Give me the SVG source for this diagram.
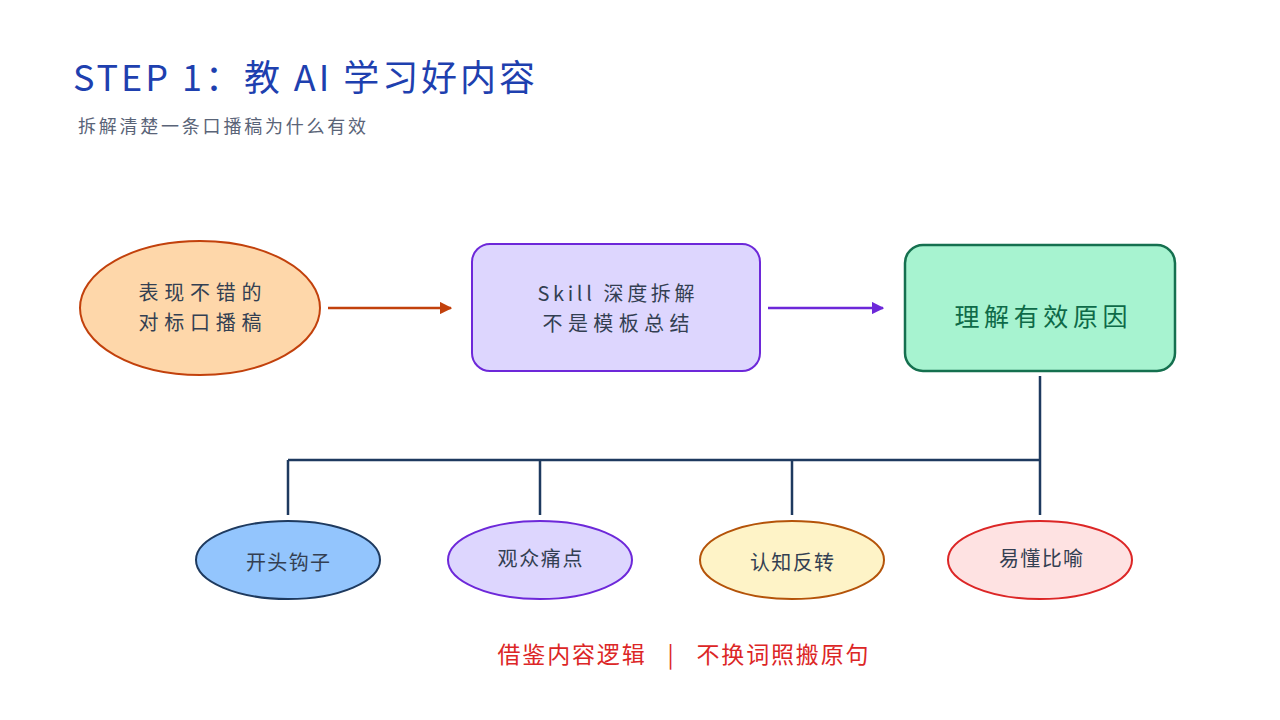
<svg xmlns="http://www.w3.org/2000/svg" width="1280" height="720" viewBox="0 0 1280 720">
<defs>
<style>
text{font-family:"Noto Sans CJK SC","Noto Sans",sans-serif;}
.node{font-size:20px;fill:#333f52;text-anchor:middle;}
.small{font-size:20px;fill:#333f52;text-anchor:middle;}
.conn{stroke:#1e3a5f;stroke-width:2.5;fill:none;}
</style>
<marker id="ah-o" viewBox="0 0 10 10" refX="9" refY="5" markerWidth="5" markerHeight="5" orient="auto"><path d="M0,0 L10,5 L0,10 z" fill="#c2410c"/></marker>
<marker id="ah-p" viewBox="0 0 10 10" refX="9" refY="5" markerWidth="5" markerHeight="5" orient="auto"><path d="M0,0 L10,5 L0,10 z" fill="#6d28d9"/></marker>
</defs>
<rect width="1280" height="720" fill="#ffffff"/>
<text x="73" y="91" font-size="36" fill="#1e40af" textLength="462" lengthAdjust="spacing">STEP 1：教 AI 学习好内容</text>
<text x="78" y="133" font-size="18" fill="#5a6478" textLength="288" lengthAdjust="spacing">拆解清楚一条口播稿为什么有效</text>

<g id="connectors">
<line x1="328" y1="308" x2="451" y2="308" stroke="#c2410c" stroke-width="2.5" marker-end="url(#ah-o)"/>
<line x1="768" y1="308" x2="883" y2="308" stroke="#6d28d9" stroke-width="2.5" marker-end="url(#ah-p)"/>
<path class="conn" d="M1040,376 V460 M288,460 H1040 M288,460 V515 M540,460 V515 M792,460 V515 M1040,460 V515"/>
</g>

<g id="n1">
<ellipse cx="200" cy="308" rx="120" ry="67" fill="#fed7aa" stroke="#c2410c" stroke-width="2"/>
<text class="node" x="200" y="300" textLength="123" lengthAdjust="spacing">表现不错的</text>
<text class="node" x="200" y="330" textLength="123" lengthAdjust="spacing">对标口播稿</text>
</g>
<g id="n2">
<rect x="472" y="244" width="288" height="127" rx="18" fill="#ddd6fe" stroke="#6d28d9" stroke-width="2"/>
<text class="node" x="616" y="301" textLength="157" lengthAdjust="spacing">Skill 深度拆解</text>
<text class="node" x="616" y="331" textLength="147" lengthAdjust="spacing">不是模板总结</text>
</g>
<g id="n3">
<rect x="905" y="245" width="270" height="126" rx="18" fill="#a7f3d0" stroke="#15704f" stroke-width="2.5"/>
<text x="1041" y="326" font-size="25" fill="#0e6a48" text-anchor="middle" textLength="173" lengthAdjust="spacing">理解有效原因</text>
</g>
<g id="b1">
<ellipse cx="288" cy="560" rx="92" ry="39" fill="#93c5fd" stroke="#1e3a5f" stroke-width="2"/>
<text class="small" x="288" y="570" textLength="84" lengthAdjust="spacing">开头钩子</text>
</g>
<g id="b2">
<ellipse cx="540" cy="560" rx="92" ry="39" fill="#ddd6fe" stroke="#6d28d9" stroke-width="2"/>
<text class="small" x="540" y="566" textLength="85" lengthAdjust="spacing">观众痛点</text>
</g>
<g id="b3">
<ellipse cx="792" cy="560" rx="92" ry="39" fill="#fef3c7" stroke="#b45309" stroke-width="2"/>
<text class="small" x="792" y="570" textLength="84" lengthAdjust="spacing">认知反转</text>
</g>
<g id="b4">
<ellipse cx="1040" cy="560" rx="92" ry="39" fill="#fee2e2" stroke="#dc2626" stroke-width="2"/>
<text class="small" x="1041" y="566" textLength="84" lengthAdjust="spacing">易懂比喻</text>
</g>
<text x="683" y="663" font-size="23" fill="#dc2626" text-anchor="middle" xml:space="preserve" textLength="371" lengthAdjust="spacing">借鉴内容逻辑   |   不换词照搬原句</text>
</svg>
